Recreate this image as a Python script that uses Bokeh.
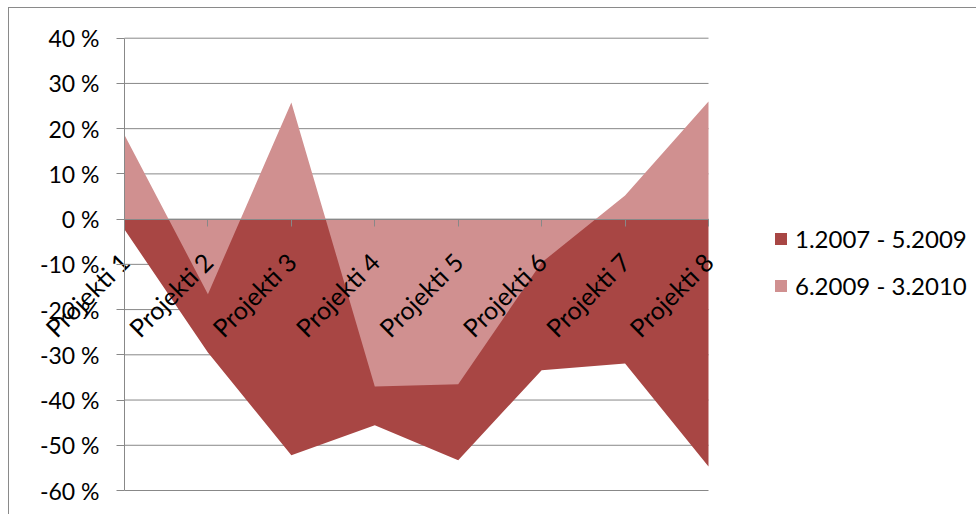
from math import pi

from bokeh.embed import file_html
from bokeh.models import ColumnDataSource, FixedTicker, Legend, LegendItem, Range1d
from bokeh.plotting import figure
from bokeh.resources import INLINE

# Project categories and the two period series (percent change)
categories = ["Projekti 1", "Projekti 2", "Projekti 3", "Projekti 4",
              "Projekti 5", "Projekti 6", "Projekti 7", "Projekti 8"]
period_2007_2009 = [-2.3, -29.5, -52.2, -45.6, -53.3, -33.4, -31.9, -54.7]
period_2009_2010 = [18.6, -16.6, 25.8, -37.0, -36.5, -9.6, 5.2, 26.0]
series_labels = ["1.2007 - 5.2009", "6.2009 - 3.2010"]

y_ticks = [-60, -50, -40, -30, -20, -10, 0, 10, 20, 30, 40]
y_tick_labels = ["-60 %", "-50 %", "-40 %", "-30 %", "-20 %", "-10 %",
                 "0 %", "10 %", "20 %", "30 %", "40 %"]

DARK = "#A84644"
LIGHT = "#D09090"
GRID = "#888888"
FONT = "Lato"

W, H = 968, 507
# Plot region inside the canvas (pixels): categories run from 115 to 699,
# values from 29.7 (top, 40 %) to 482 (bottom, -60 %)
X0_PX, X1_PX = 115.0, 699.0
Y_TOP_PX, Y_BOT_PX = 29.7, 482.0

n = len(categories)
ux = (X1_PX - X0_PX) / (n - 1)
uy = (Y_BOT_PX - Y_TOP_PX) / (y_ticks[-1] - y_ticks[0])
x_range = Range1d(-X0_PX / ux, (n - 1) + (W - X1_PX) / ux)
y_range = Range1d(y_ticks[0] - (H - Y_BOT_PX) / uy, y_ticks[-1] + Y_TOP_PX / uy)

idx = list(range(n))
source = ColumnDataSource(data=dict(
    x=idx,
    zero=[0] * n,
    a=period_2007_2009,
    b=period_2009_2010,
))
grid_src = ColumnDataSource(data=dict(
    x0=[0] * len(y_ticks), x1=[n - 1] * len(y_ticks), y=y_ticks,
))

p = figure(
    width=W, height=H,
    x_range=x_range, y_range=y_range,
    output_backend="svg", toolbar_location=None,
    min_border=0,
    background_fill_color="white", border_fill_color="white",
)
p.outline_line_color = None
p.styles = {
    "margin-left": "8px",
    "margin-top": "7px",
    "border-left": "1px solid #8a8a8a",
    "border-top": "1px solid #8a8a8a",
}
p.xgrid.visible = False
p.ygrid.visible = False

# Horizontal gridlines across the category span
p.segment(x0="x0", y0="y", x1="x1", y1="y", source=grid_src,
          line_color=GRID, line_width=1)

# Filled areas: the earlier period sits underneath the later one
r_a = p.varea(x="x", y1="zero", y2="a", source=source, fill_color=DARK)
r_b = p.varea(x="x", y1="zero", y2="b", source=source, fill_color=LIGHT)

# Value axis at the first category
yaxis = p.yaxis[0]
yaxis.fixed_location = 0
yaxis.bounds = (y_ticks[0], y_ticks[-1])
yaxis.ticker = FixedTicker(ticks=y_ticks)
yaxis.major_label_overrides = dict(zip(y_ticks, y_tick_labels))
yaxis.axis_line_color = GRID
yaxis.major_tick_line_color = GRID
yaxis.major_tick_in = 0
yaxis.major_tick_out = 8
yaxis.minor_tick_line_color = None
yaxis.major_label_standoff = 17
yaxis.major_label_text_font = FONT
yaxis.major_label_text_font_size = "23px"
yaxis.major_label_text_color = "black"

# Category axis crossing at zero
xaxis = p.xaxis[0]
xaxis.fixed_location = 0
xaxis.bounds = (0, n - 1)
xaxis.ticker = FixedTicker(ticks=idx)
xaxis.major_label_overrides = dict(zip(idx, categories))
xaxis.major_label_orientation = pi / 4
xaxis.axis_line_color = GRID
xaxis.major_tick_line_color = GRID
xaxis.major_tick_in = 0
xaxis.major_tick_out = 7
xaxis.minor_tick_line_color = None
xaxis.major_label_standoff = 31
xaxis.major_label_text_font = FONT
xaxis.major_label_text_font_size = "25px"
xaxis.major_label_text_color = "black"

legend = Legend(
    items=[LegendItem(label=series_labels[0], renderers=[r_a]),
           LegendItem(label=series_labels[1], renderers=[r_b])],
    location=(764, 215),
    orientation="vertical",
    glyph_width=15, glyph_height=15,
    label_height=30, spacing=17,
    label_standoff=7,
    padding=0, margin=0,
    border_line_color=None,
    background_fill_alpha=0,
    label_text_font=FONT,
    label_text_font_size="24px",
    label_text_color="black",
)
p.add_layout(legend)

open("out.html", "w").write(file_html(p, INLINE))
